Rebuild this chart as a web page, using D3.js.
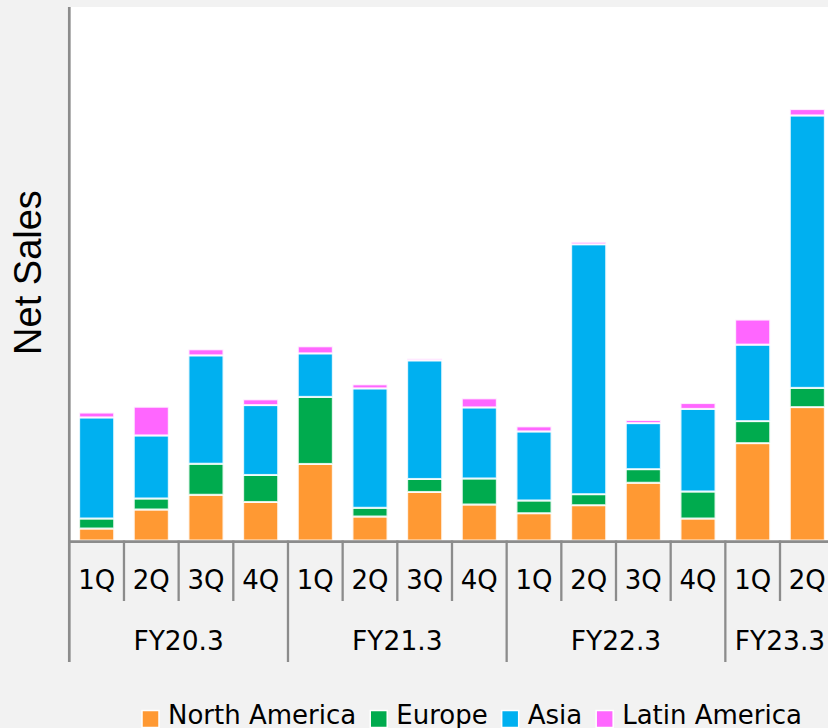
<!DOCTYPE html>
<html>
<head>
<meta charset="utf-8">
<script src="https://cdn.jsdelivr.net/npm/d3@7"></script>
<style>
  html, body { margin: 0; padding: 0; background: #f2f2f2; overflow: hidden; }
  svg { display: block; }
</style>
</head>
<body>
<svg id="chart" width="828" height="728"></svg>
<script>
// ---- data ----
const fiscalYears = ["FY20.3", "FY21.3", "FY22.3", "FY23.3"];
const quartersPerYear = [4, 4, 4, 2];
const quarterLabels = ["1Q", "2Q", "3Q", "4Q"];
const seriesNames = ["North America", "Europe", "Asia", "Latin America"];
const seriesColors = ["#ff9933", "#00ab4e", "#00b0f0", "#ff66ff"];
const northAmerica = [12.0, 31.0, 45.7, 38.5, 76.5, 24.0, 48.5, 36.0, 27.3, 35.3, 57.7, 22.0, 97.3, 133.3];
const europe       = [10.0, 11.0, 31.0, 27.0, 67.0,  8.7, 13.0, 26.0, 12.7, 11.0, 13.6, 27.0, 22.0, 19.2];
const asia         = [101.0, 63.0, 108.3, 69.8, 43.5, 119.3, 118.5, 71.0, 69.0, 249.7, 46.0, 82.5, 76.4, 272.2];
const latinAmerica = [4.8, 28.6, 6.0, 5.7, 7.0, 4.0, 1.7, 9.0, 5.0, 2.3, 3.0, 5.8, 25.0, 6.3];
const yMax = 533;

(function () {
// ---- build table ----
const rows = [];
let idx = 0;
fiscalYears.forEach((fy, g) => {
  for (let q = 0; q < quartersPerYear[g]; q++) {
    rows.push({
      key: fy + "-" + quarterLabels[q], fy: fy, q: quarterLabels[q],
      "North America": northAmerica[idx], "Europe": europe[idx],
      "Asia": asia[idx], "Latin America": latinAmerica[idx]
    });
    idx++;
  }
});

const svg = d3.select("#chart");
const plotLeft = 69.3, plotTop = 7, baseY = 540.5;
const step = 54.67;
const plotRight = plotLeft + step * rows.length;
const labelFont = "DejaVu Sans, Verdana, sans-serif";

const x = d3.scaleBand().domain(rows.map(d => d.key)).range([plotLeft, plotRight]).paddingInner(0.36).paddingOuter(0.18);
const y = d3.scaleLinear().domain([0, yMax]).range([baseY, plotTop]);
const color = d3.scaleOrdinal().domain(seriesNames).range(seriesColors);

// background + plot area
svg.append("rect").attr("width", 828).attr("height", 728).attr("fill", "#f2f2f2");
svg.append("rect").attr("x", plotLeft).attr("y", plotTop).attr("width", plotRight - plotLeft).attr("height", baseY - plotTop).attr("fill", "#ffffff");

// bars
const stack = d3.stack().keys(seriesNames)(rows);
svg.append("g").selectAll("g").data(stack).join("g")
  .attr("fill", d => color(d.key))
  .selectAll("rect").data(d => d).join("rect")
  .attr("x", d => x(d.data.key))
  .attr("width", x.bandwidth())
  .attr("y", d => y(d[1]))
  .attr("height", d => y(d[0]) - y(d[1]))
  .attr("stroke", "#ffffff")
  .attr("stroke-width", 2)
  .attr("stroke-opacity", 0.85);

const axisColor = "#8c8c8c";
const ax = svg.append("g");
// y axis line
ax.append("line").attr("x1", plotLeft).attr("x2", plotLeft).attr("y1", plotTop).attr("y2", 662)
  .attr("stroke", axisColor).attr("stroke-width", 2.7);
// baseline
ax.append("line").attr("x1", plotLeft).attr("x2", plotRight + 10).attr("y1", baseY + 1.2).attr("y2", baseY + 1.2)
  .attr("stroke", axisColor).attr("stroke-width", 2.8);

// quarter separators & group separators
let cum = 0;
const groupEnds = new Set();
quartersPerYear.forEach(n => { cum += n; groupEnds.add(cum); });
for (let i = 1; i <= rows.length; i++) {
  const bx = x(rows[i - 1].key) - x.step() * x.paddingInner() / 2 + x.step();
  const isGroup = groupEnds.has(i);
  ax.append("line").attr("x1", bx).attr("x2", bx).attr("y1", baseY).attr("y2", isGroup ? 662 : 601)
    .attr("stroke", axisColor).attr("stroke-width", 2.3);
}

// quarter labels
svg.append("g").selectAll("text").data(rows).join("text")
  .attr("x", d => x(d.key) + x.bandwidth() / 2)
  .attr("y", 589)
  .attr("text-anchor", "middle")
  .attr("font-family", labelFont)
  .attr("font-size", 26)
  .attr("fill", "#000")
  .text(d => d.q);

// group labels
let start = 0;
const groups = fiscalYears.map((fy, g) => {
  const first = rows[start], last = rows[start + quartersPerYear[g] - 1];
  start += quartersPerYear[g];
  return { fy, cx: (x(first.key) + x(last.key) + x.bandwidth()) / 2 };
});
svg.append("g").selectAll("text").data(groups).join("text")
  .attr("x", d => d.cx)
  .attr("y", 649.5)
  .attr("text-anchor", "middle")
  .attr("font-family", labelFont)
  .attr("font-size", 26.5)
  .attr("fill", "#000")
  .text(d => d.fy);

// y axis title
svg.append("text")
  .attr("transform", "translate(40.5,272.5) rotate(-90)")
  .attr("text-anchor", "middle")
  .attr("font-family", "Liberation Sans, Arial, sans-serif")
  .attr("font-size", 38)
  .attr("fill", "#000")
  .text("Net Sales");

// legend
const legend = svg.append("g");
let lx = 142;
seriesNames.forEach((name, i) => {
  const g = legend.append("g");
  g.append("rect").attr("x", lx).attr("y", 710.5).attr("width", 17).attr("height", 17)
    .attr("fill", seriesColors[i]).attr("stroke", "#ffffff").attr("stroke-width", 1.5);
  const t = g.append("text").attr("x", lx + 26).attr("y", 724)
    .attr("font-family", labelFont).attr("font-size", 26).attr("fill", "#000").text(name);
  lx += 26 + t.node().getComputedTextLength() + 14;
});
})();
</script>
</body>
</html>
